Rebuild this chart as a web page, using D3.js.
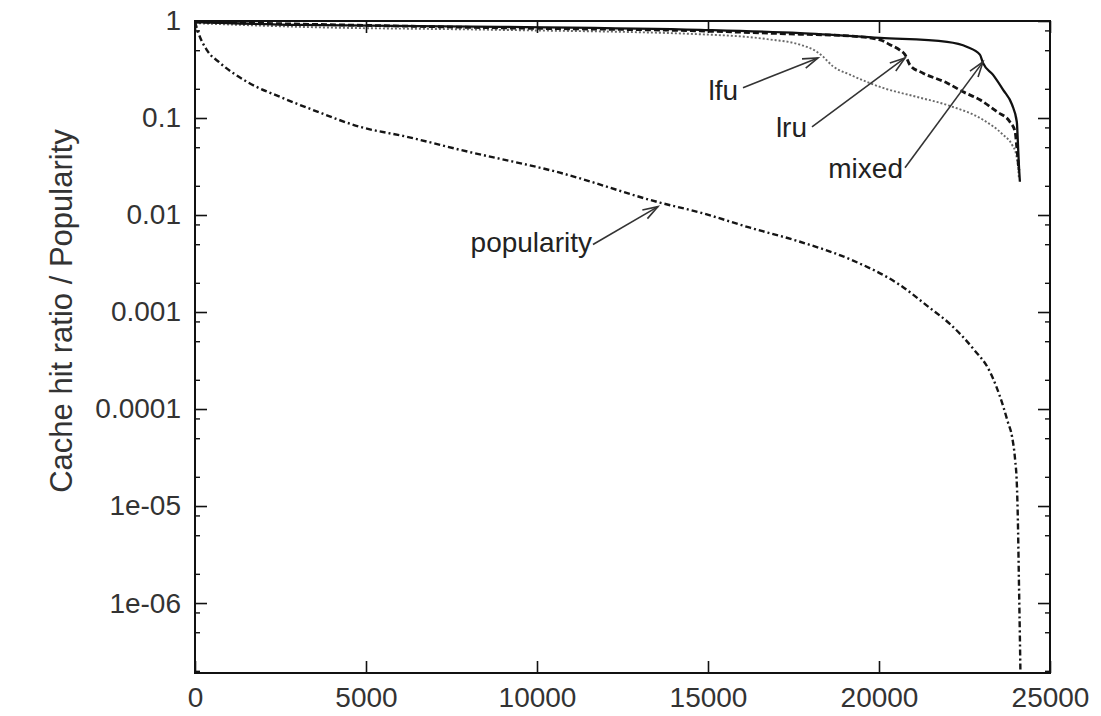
<!DOCTYPE html>
<html>
<head>
<meta charset="utf-8">
<script src="https://cdn.jsdelivr.net/npm/d3@7"></script>
<style>
  html, body { margin: 0; padding: 0; background: #fff; }
  svg { display: block; font-family: "Liberation Sans", Arial, Helvetica, sans-serif; }
</style>
</head>
<body>
<svg id="chart" width="1101" height="716"></svg>
<script>
// Object rank (x) and hit ratio / popularity (y) per series
const mixedX = [0, 3070, 8920, 14770, 17690, 20030, 21990, 22580, 22950, 23040, 23330, 23630, 23890, 24030, 24060, 24090, 24120];
const mixedY = [0.977, 0.91, 0.87, 0.81, 0.75, 0.67, 0.61, 0.54, 0.45, 0.37, 0.28, 0.195, 0.137, 0.091, 0.057, 0.033, 0.022];

const lruX = [0, 8920, 14770, 17690, 19150, 20030, 20320, 20610, 20760, 20910, 21290, 21990, 22460, 22950, 23450, 23830, 23980, 24030, 24090];
const lruY = [0.977, 0.85, 0.79, 0.73, 0.70, 0.64, 0.57, 0.50, 0.45, 0.35, 0.29, 0.23, 0.186, 0.154, 0.116, 0.091, 0.072, 0.049, 0.029];

const lfuX = [0, 3070, 8920, 14770, 16730, 17690, 18190, 18360, 18660, 19150, 19650, 20120, 21110, 22080, 23040, 23630, 23890, 24010, 24060, 24090];
const lfuY = [0.95, 0.87, 0.81, 0.73, 0.65, 0.57, 0.48, 0.43, 0.34, 0.28, 0.235, 0.204, 0.165, 0.133, 0.096, 0.067, 0.053, 0.042, 0.033, 0.024];

const popX = [0, 90, 350, 730, 1520, 2490, 3450, 4830, 6200, 7750, 10670, 13600, 14770, 16230, 17690, 19150, 20610, 21490, 22080, 22750, 23250, 23630, 23770, 23890, 23980, 24030, 24060, 24090, 24120, 24140];
const popY = [0.976, 0.77, 0.50, 0.37, 0.236, 0.165, 0.121, 0.081, 0.064, 0.047, 0.0273, 0.0134, 0.0106, 0.0074, 0.0053, 0.0035, 0.0019, 0.0011, 0.00075, 0.00042, 0.00024, 0.000107, 7.3e-5, 5.2e-5, 3.0e-5, 1.7e-5, 7.3e-6, 1.8e-6, 4.3e-7, 1.5e-7];

// Axis ticks
const xTicks = [0, 5000, 10000, 15000, 20000, 25000];
const yTicks = [1, 0.1, 0.01, 0.001, 0.0001, 1e-5, 1e-6];
const yTickLabels = ["1", "0.1", "0.01", "0.001", "0.0001", "1e-05", "1e-06"];
const yMinorFactors = [2, 5, 8];

// Annotations: label text, label anchor (x, y), arrow start, arrow tip
const noteLabels = ["lfu", "lru", "mixed", "popularity"];
const noteTextX = [15877, 17895, 20702, 11608];
const noteTextY = [0.154, 0.064, 0.0243, 0.0042];
const noteFromX = [16023, 18041, 20760, 11637];
const noteFromY = [0.205, 0.081, 0.0307, 0.00496];
const noteToX = [18216, 20760, 23041, 13538];
const noteToY = [0.416, 0.416, 0.379, 0.0122];

const yTitle = "Cache hit ratio / Popularity";

const W = 1101, H = 716;
const margin = { left: 195, right: 51, top: 21, bottom: 43 };
const svg = d3.select("#chart");

const x = d3.scaleLinear().domain([0, 25000]).range([margin.left, W - margin.right]);
const y = d3.scaleLog().domain([1.9e-7, 1]).range([H - margin.bottom, margin.top]);

const x0 = margin.left, x1 = W - margin.right, y0 = margin.top, y1 = H - margin.bottom;
const fontSize = 28;

// Minor log ticks at 2, 5 and 8 within each decade
const minorTicks = [];
for (let e = -7; e <= 0; e++) {
  yMinorFactors.forEach(f => {
    const v = f * Math.pow(10, e);
    if (v > y.domain()[0] && v < 1) minorTicks.push(v);
  });
}

const tickColor = "#111";
const major = 12, minor = 5;

// Left and right axes (mirrored ticks)
const leftAxis = d3.axisLeft(y).tickValues(yTicks).tickSize(-major).tickPadding(14)
  .tickFormat((d, i) => yTickLabels[i]);
const gl = svg.append("g").attr("transform", `translate(${x0},0)`).call(leftAxis);
gl.select(".domain").remove();
gl.selectAll(".tick line").attr("stroke", tickColor).attr("stroke-width", 1.6);
gl.selectAll(".tick text").attr("font-size", fontSize).attr("fill", "#333");

const leftMinor = d3.axisLeft(y).tickValues(minorTicks).tickSize(-minor).tickFormat("");
const glm = svg.append("g").attr("transform", `translate(${x0},0)`).call(leftMinor);
glm.select(".domain").remove();
glm.selectAll(".tick line").attr("stroke", tickColor).attr("stroke-width", 1.4);

const rightAxis = d3.axisRight(y).tickValues(yTicks).tickSize(-major).tickFormat("");
const gr = svg.append("g").attr("transform", `translate(${x1},0)`).call(rightAxis);
gr.select(".domain").remove();
gr.selectAll(".tick line").attr("stroke", tickColor).attr("stroke-width", 1.6);

const rightMinor = d3.axisRight(y).tickValues(minorTicks).tickSize(-minor).tickFormat("");
const grm = svg.append("g").attr("transform", `translate(${x1},0)`).call(rightMinor);
grm.select(".domain").remove();
grm.selectAll(".tick line").attr("stroke", tickColor).attr("stroke-width", 1.4);

// Bottom and top axes
const bottomAxis = d3.axisBottom(x).tickValues(xTicks).tickSize(-major).tickPadding(14)
  .tickFormat(d3.format("d"));
const gb = svg.append("g").attr("transform", `translate(0,${y1})`).call(bottomAxis);
gb.select(".domain").remove();
gb.selectAll(".tick line").attr("stroke", tickColor).attr("stroke-width", 1.6);
gb.selectAll(".tick text").attr("font-size", fontSize).attr("fill", "#333");

const topAxis = d3.axisTop(x).tickValues(xTicks).tickSize(-major).tickFormat("");
const gt = svg.append("g").attr("transform", `translate(0,${y0})`).call(topAxis);
gt.select(".domain").remove();
gt.selectAll(".tick line").attr("stroke", tickColor).attr("stroke-width", 1.6);

// Plot frame
svg.append("rect")
  .attr("x", x0).attr("y", y0).attr("width", x1 - x0).attr("height", y1 - y0)
  .attr("fill", "none").attr("stroke", "#111").attr("stroke-width", 2);

// Y axis title
svg.append("text")
  .attr("transform", `translate(72,311) rotate(-90)`)
  .attr("text-anchor", "middle")
  .attr("font-size", 31).attr("fill", "#333")
  .text(yTitle);

// Curves
svg.append("clipPath").attr("id", "plot-clip")
  .append("rect").attr("x", x0).attr("y", y0).attr("width", x1 - x0).attr("height", y1 - y0);

const line = d3.line().x(d => x(d[0])).y(d => y(d[1])).curve(d3.curveMonotoneX);
const series = [
  { xs: lfuX, ys: lfuY, stroke: "#6a6a6a", width: 1.9, dash: "2,2" },
  { xs: popX, ys: popY, stroke: "#151515", width: 2.4, dash: "6,3,2,3" },
  { xs: lruX, ys: lruY, stroke: "#151515", width: 2.8, dash: "6,3" },
  { xs: mixedX, ys: mixedY, stroke: "#111", width: 2.3, dash: null }
];
const gc = svg.append("g").attr("clip-path", "url(#plot-clip)");
series.forEach(s => {
  gc.append("path")
    .datum(s.xs.map((v, i) => [v, s.ys[i]]))
    .attr("d", line)
    .attr("fill", "none")
    .attr("stroke", s.stroke)
    .attr("stroke-width", s.width)
    .attr("stroke-dasharray", s.dash)
    .attr("stroke-linejoin", "round");
});

// Annotation labels with open-headed arrows
const ga = svg.append("g");
noteLabels.forEach((t, i) => {
  ga.append("text")
    .attr("x", x(noteTextX[i])).attr("y", y(noteTextY[i]))
    .attr("text-anchor", "end")
    .attr("font-size", fontSize).attr("fill", "#222")
    .text(t);
  const ax = x(noteFromX[i]), ay = y(noteFromY[i]);
  const bx = x(noteToX[i]), by = y(noteToY[i]);
  ga.append("line")
    .attr("x1", ax).attr("y1", ay).attr("x2", bx).attr("y2", by)
    .attr("stroke", "#333").attr("stroke-width", 1.6);
  const ang = Math.atan2(by - ay, bx - ax);
  const hl = 16, ha = 0.32;
  const p1 = [bx - hl * Math.cos(ang - ha), by - hl * Math.sin(ang - ha)];
  const p2 = [bx - hl * Math.cos(ang + ha), by - hl * Math.sin(ang + ha)];
  ga.append("path")
    .attr("d", `M${p1[0]},${p1[1]}L${bx},${by}L${p2[0]},${p2[1]}`)
    .attr("fill", "none").attr("stroke", "#333").attr("stroke-width", 1.6);
});
</script>
</body>
</html>
